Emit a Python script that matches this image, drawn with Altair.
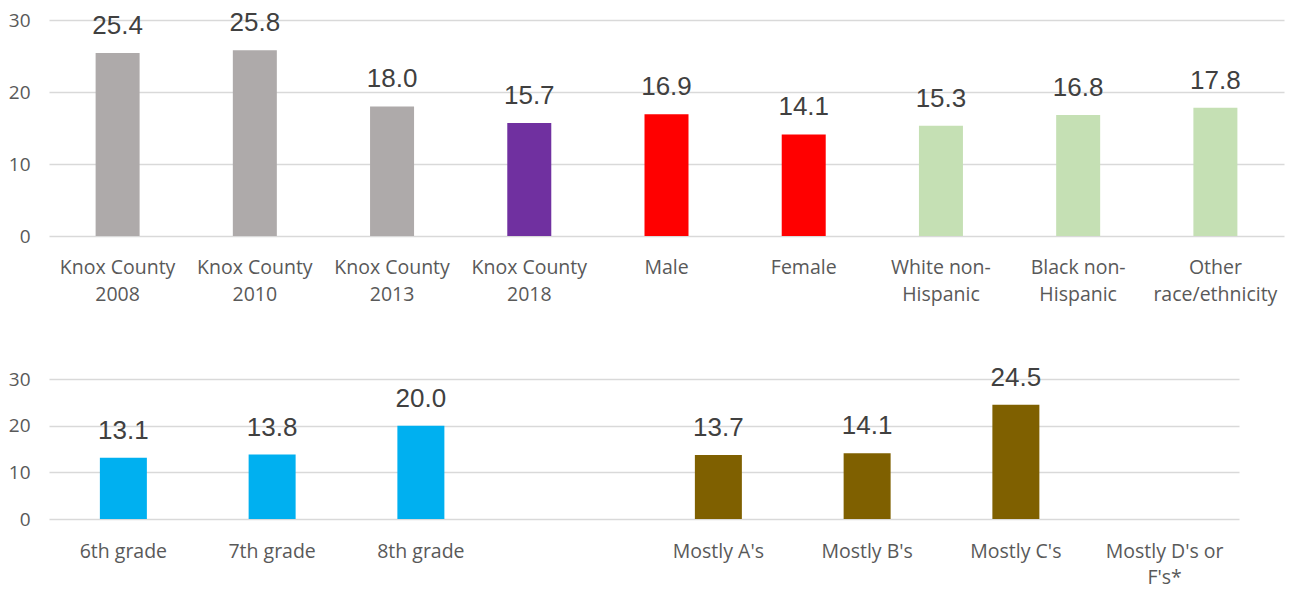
import altair as alt
import pandas as pd

top_cats = ["Knox County|2008", "Knox County|2010", "Knox County|2013", "Knox County|2018",
            "Male", "Female", "White non-|Hispanic", "Black non-|Hispanic", "Other|race/ethnicity"]
top_vals = [25.4, 25.8, 18.0, 15.7, 16.9, 14.1, 15.3, 16.8, 17.8]
top_cols = ["#AEAAAA", "#AEAAAA", "#AEAAAA", "#7030A0", "#FF0000", "#FF0000",
            "#C5E0B4", "#C5E0B4", "#C5E0B4"]

bot_cats = ["6th grade", "7th grade", "8th grade", " ", "Mostly A's", "Mostly B's",
            "Mostly C's", "Mostly D's or|F's*"]
bot_vals = [13.1, 13.8, 20.0, None, 13.7, 14.1, 24.5, None]
bot_cols = ["#00B0F0", "#00B0F0", "#00B0F0", "#FFFFFF", "#7F6000", "#7F6000",
            "#7F6000", "#FFFFFF"]

y_ticks = [0, 10, 20, 30]

AXIS_FONT = "Open Sans"
VAL_FONT = "Liberation Sans"


def panel(cats, vals, cols, width, height, bar_size, pad, line_h):
    df = pd.DataFrame({"cat": cats, "val": vals, "col": cols})
    x = alt.X("cat:N", sort=cats, scale=alt.Scale(domain=cats),
              axis=alt.Axis(title=None, labelAngle=0, labelFont=AXIS_FONT,
                            labelFontSize=19.5, labelColor="#595959",
                            labelExpr="split(datum.value, '|')",
                            labelLineHeight=line_h, labelPadding=pad,
                            ticks=False, domain=False, grid=False))
    y = alt.Y("val:Q", scale=alt.Scale(domain=[0, 30], nice=False),
              axis=alt.Axis(title=None, values=y_ticks, labelFont=AXIS_FONT,
                            labelFontSize=19, labelColor="#595959",
                            labelPadding=19, ticks=False, domain=False,
                            grid=True, gridColor="#D9D9D9", gridWidth=1.5))
    bars = alt.Chart(df).mark_bar(size=bar_size).encode(
        x=x, y=y, color=alt.Color("col:N", scale=None))
    labels = alt.Chart(df).transform_filter("isValid(datum.val)").mark_text(
        baseline="bottom", dy=-14, font=VAL_FONT, fontSize=26, color="#404040"
    ).encode(x=alt.X("cat:N", sort=cats, scale=alt.Scale(domain=cats)),
             y=alt.Y("val:Q"), text=alt.Text("val:Q", format=".1f"))
    return (bars + labels).properties(width=width, height=height)


top = panel(top_cats, top_vals, top_cols, 1235, 216, 44, 22, 27)
bot = panel(bot_cats, bot_vals, bot_cols, 1190, 140, 47, 23, 26)

chart = alt.vconcat(top, bot, spacing=60).properties(
    padding={"left": 0, "top": 2, "right": 2, "bottom": 2}
).configure_view(stroke=None)

chart.save("out.html", embed_options={"renderer": "svg", "actions": False})
